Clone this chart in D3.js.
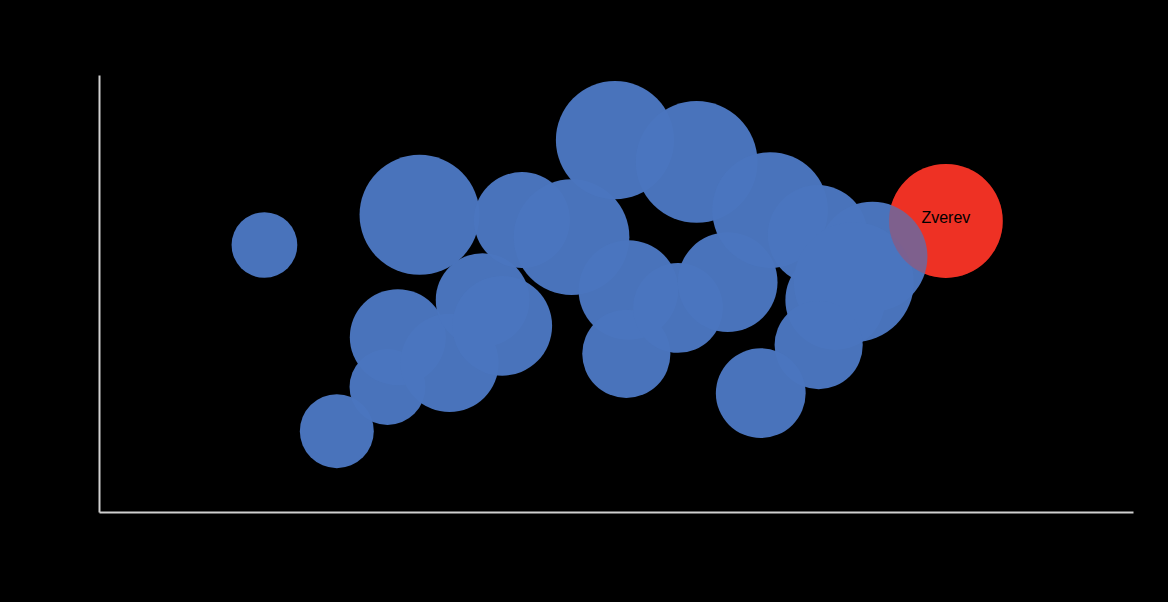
<!DOCTYPE html>
<html>
<head>
<meta charset="utf-8">
<script src="https://cdn.jsdelivr.net/npm/d3@7"></script>
<style>
    html, body { margin: 0; padding: 0; background: #000; }
    svg { display: block; }
</style>
</head>
<body>
<div id="bubble-chart"></div>
<script>
// blue series (all other players)
var xValues = [16.0, 23.0, 27.9, 28.9, 33.9, 37.1, 39.0, 31.0, 40.9, 45.7, 49.9, 57.8,
               51.2, 51.0, 56.0, 60.8, 64.9, 69.5, 71.2, 74.8, 73.0, 69.6, 64.0];
var yValues = [61.1, 18.5, 28.6, 40.0, 34.1, 48.5, 42.6, 68.0, 66.8, 62.9, 85.1, 80.1,
               50.8, 36.2, 46.7, 52.6, 69.1, 63.4, 48.5, 58.4, 52.6, 38.2, 27.2];
var sizeValues = [30, 38, 40, 64, 67, 61, 69, 100, 64, 93, 97, 103,
                  69, 54, 56, 69, 93, 69, 69, 84, 100, 54, 56];

// highlighted player (red series)
var highlightNames = ["Zverev"];
var highlightX = [81.9];
var highlightY = [66.6];
var highlightSize = [90];

var svgWidth = 1168;
var svgHeight = 602;
var margin = {top: 75, right: 35, bottom: 90, left: 99};

var svg = d3.select("#bubble-chart").append("svg")
    .attr("width", svgWidth)
    .attr("height", svgHeight)
    .style("background", "#000");

var xScale = d3.scaleLinear()
    .domain([0, 100])
    .range([margin.left, svgWidth - margin.right]);

var yScale = d3.scaleLinear()
    .domain([0, 100])
    .range([svgHeight - margin.bottom, margin.top]);

var rScale = d3.scaleSqrt()
    .domain([0, 100])
    .range([0, 60]);

var blueData = xValues.map(function (d, i) {
    return {x: d, y: yValues[i], size: sizeValues[i]};
});
var redData = highlightNames.map(function (d, i) {
    return {name: d, x: highlightX[i], y: highlightY[i], size: highlightSize[i]};
});

// axes, no ticks or labels
svg.append("g")
    .attr("transform", "translate(0," + yScale(0) + ")")
    .call(d3.axisBottom(xScale).tickValues([]).tickSizeOuter(0))
    .call(function (g) { g.select(".domain").attr("stroke", "#d0d0d0").attr("stroke-width", 2); });

svg.append("g")
    .attr("transform", "translate(" + xScale(0) + ",0)")
    .call(d3.axisLeft(yScale).tickValues([]).tickSizeOuter(0))
    .call(function (g) { g.select(".domain").attr("stroke", "#d0d0d0").attr("stroke-width", 2); });

// red bubble underneath
svg.append("g").selectAll("circle")
    .data(redData)
    .enter()
    .append("circle")
    .attr("cx", function (d) { return xScale(d.x); })
    .attr("cy", function (d) { return yScale(d.y); })
    .attr("r", function (d) { return rScale(d.size); })
    .attr("fill", "#ee3224");

svg.append("g").selectAll("circle")
    .data(blueData)
    .enter()
    .append("circle")
    .attr("cx", function (d) { return xScale(d.x); })
    .attr("cy", function (d) { return yScale(d.y); })
    .attr("r", function (d) { return rScale(d.size); })
    .attr("fill", "#4a75bf")
    .attr("fill-opacity", 0.98);

// translucent red wash so the overlap turns purple
svg.append("g").selectAll("circle")
    .data(redData)
    .enter()
    .append("circle")
    .attr("cx", function (d) { return xScale(d.x); })
    .attr("cy", function (d) { return yScale(d.y); })
    .attr("r", function (d) { return rScale(d.size); })
    .attr("fill", "#ee3224")
    .attr("fill-opacity", 0.3);

svg.append("g").selectAll("text")
    .data(redData)
    .enter()
    .append("text")
    .attr("x", function (d) { return xScale(d.x); })
    .attr("y", function (d) { return yScale(d.y) + 2; })
    .attr("text-anchor", "middle")
    .attr("font-family", "Liberation Sans, Arial, sans-serif")
    .attr("font-size", "16px")
    .attr("fill", "#000")
    .text(function (d) { return d.name; });
</script>
</body>
</html>
